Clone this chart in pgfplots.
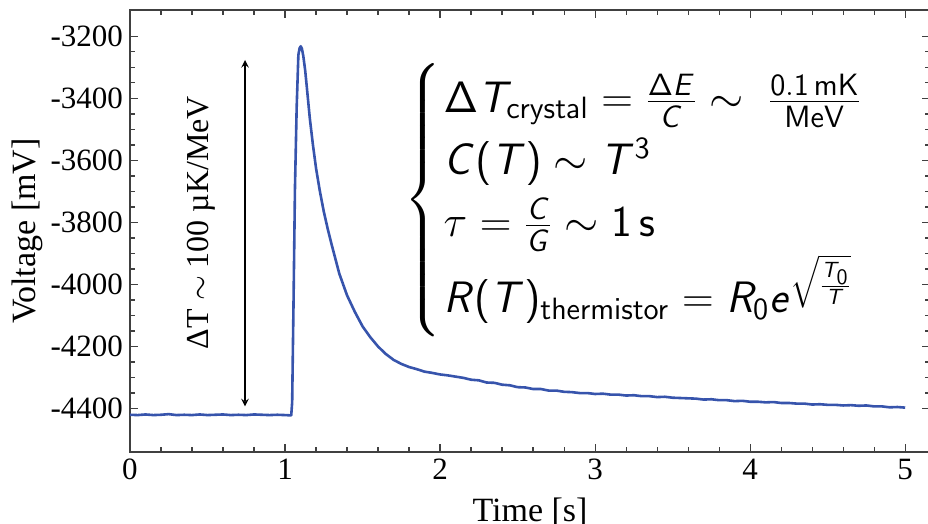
\documentclass[border=0pt]{standalone}
\usepackage{fix-cm}
\usepackage{pgfplots}
\pgfplotsset{compat=1.18}
\usepackage{amsmath}
\usepackage[no-math]{fontspec}
\setmainfont{Liberation Serif}
\definecolor{pulse}{RGB}{55,84,172}
% sans-serif math for the equation block (beamer look)
\SetSymbolFont{operators}{normal}{OT1}{cmss}{m}{n}
\DeclareSymbolFont{sfletters}{OT1}{cmss}{m}{sl}
\DeclareMathSymbol{C}{\mathalpha}{sfletters}{`C}
\DeclareMathSymbol{E}{\mathalpha}{sfletters}{`E}
\DeclareMathSymbol{G}{\mathalpha}{sfletters}{`G}
\DeclareMathSymbol{R}{\mathalpha}{sfletters}{`R}
\DeclareMathSymbol{T}{\mathalpha}{sfletters}{`T}
\DeclareMathSymbol{e}{\mathalpha}{sfletters}{`e}
\newsavebox{\eqbox}

\begin{document}
\sbox{\eqbox}{\fontsize{22}{20}\selectfont$\left\{\renewcommand{\arraystretch}{1.55}\begin{array}{@{\hspace{1pt}}l}
      \Delta T_{\mathrm{crystal}} = \frac{\Delta E}{C} \sim\; \frac{0.1\,\mathrm{mK}}{\mathrm{MeV}}\\
      C(T) \sim T^{3}\\
      \tau = \frac{C}{G} \sim 1\,\mathrm{s}\\
      R(T)_{\mathrm{thermistor}} = R_{0}e^{\sqrt{\frac{T_0}{T}}}
    \end{array}\right.$}
\begin{tikzpicture}
\begin{axis}[
    width=400pt, height=221pt,
    scale only axis,
    xmin=0, xmax=5.16,
    ymin=-4540, ymax=-3115,
    xtick={0,1,2,3,4,5},
    ytick={-4400,-4200,-4000,-3800,-3600,-3400,-3200},
    minor x tick num=4,
    minor y tick num=3,
    tick align=inside,
    major tick length=4pt,
    minor tick length=2.5pt,
    axis line style={black!75, line width=0.6pt},
    every tick/.style={black!75, line width=0.6pt},
    tick label style={font=\fontsize{15.5}{18}\selectfont},
    label style={font=\fontsize{17}{20}\selectfont},
    /pgf/number format/assume math mode=true,
    /pgf/number format/1000 sep={},
    xlabel={Time [s]},
    ylabel={Voltage [mV]},
    xlabel style={yshift=-2pt},
    ylabel style={yshift=-3pt},
    clip=false,
]
\addplot[pulse, line width=1.3pt, line join=round] coordinates {
    (0.00,-4420) (0.05,-4421) (0.10,-4419) (0.15,-4421) (0.20,-4420)
    (0.25,-4418) (0.30,-4421) (0.35,-4420) (0.40,-4421) (0.45,-4419)
    (0.50,-4421) (0.55,-4420) (0.60,-4419) (0.65,-4421) (0.70,-4420)
    (0.75,-4421) (0.80,-4419) (0.85,-4420) (0.90,-4421) (0.95,-4420)
    (1.00,-4421) (1.040,-4422)
    (1.046,-4380) (1.055,-4050) (1.064,-3690) (1.075,-3430) (1.086,-3260)
    (1.094,-3238) (1.101,-3232) (1.109,-3240) (1.118,-3264) (1.130,-3310)
    (1.140,-3361) (1.160,-3465) (1.18,-3550) (1.20,-3625) (1.225,-3700)
    (1.25,-3765) (1.275,-3820) (1.30,-3870) (1.35,-3965) (1.40,-4035)
    (1.45,-4088) (1.50,-4135) (1.55,-4170) (1.60,-4200) (1.65,-4224)
    (1.70,-4243) (1.75,-4256) (1.80,-4266) (1.85,-4273) (1.90,-4281)
    (1.95,-4285) (2.00,-4290) (2.05,-4293) (2.10,-4297) (2.15,-4301)
    (2.20,-4307) (2.25,-4309) (2.30,-4316) (2.35,-4317) (2.40,-4323)
    (2.45,-4325) (2.50,-4331) (2.55,-4332) (2.60,-4337) (2.65,-4337)
    (2.70,-4342) (2.75,-4342) (2.80,-4346) (2.85,-4347) (2.90,-4350)
    (2.95,-4350) (3.00,-4353) (3.05,-4352) (3.10,-4355) (3.15,-4355)
    (3.20,-4358) (3.25,-4357) (3.30,-4360) (3.35,-4360) (3.40,-4363)
    (3.45,-4362) (3.50,-4365) (3.55,-4366) (3.60,-4367) (3.65,-4368)
    (3.70,-4371) (3.75,-4370) (3.80,-4373) (3.85,-4373) (3.90,-4376)
    (3.95,-4375) (4.00,-4378) (4.05,-4378) (4.10,-4380) (4.15,-4379)
    (4.20,-4382) (4.25,-4382) (4.30,-4384) (4.35,-4384) (4.40,-4387)
    (4.45,-4386) (4.50,-4388) (4.55,-4388) (4.60,-4390) (4.65,-4389)
    (4.70,-4391) (4.75,-4390) (4.80,-4393) (4.85,-4393) (4.90,-4396)
    (4.95,-4395) (5.00,-4397)
};
% double arrow with rotated label
\draw[<->, >=stealth, line width=0.7pt] (axis cs:0.742,-3276) -- (axis cs:0.742,-4393);
\node[rotate=90, font=\fontsize{16}{19}\selectfont] at (axis cs:0.46,-3800)
    {ΔT $\sim$ 100 µK/MeV};
% equations
\node[anchor=west, inner sep=0pt] at (axis cs:1.77,-3728) {\usebox{\eqbox}};
\coordinate (bl) at (rel axis cs:0,0);
\coordinate (tr) at (rel axis cs:1,1);
\end{axis}
\pgfresetboundingbox
\path[use as bounding box] ([shift={(-62.5pt,-36pt)}]bl) rectangle ([shift={(-1pt,5pt)}]tr);
\end{tikzpicture}
\end{document}
